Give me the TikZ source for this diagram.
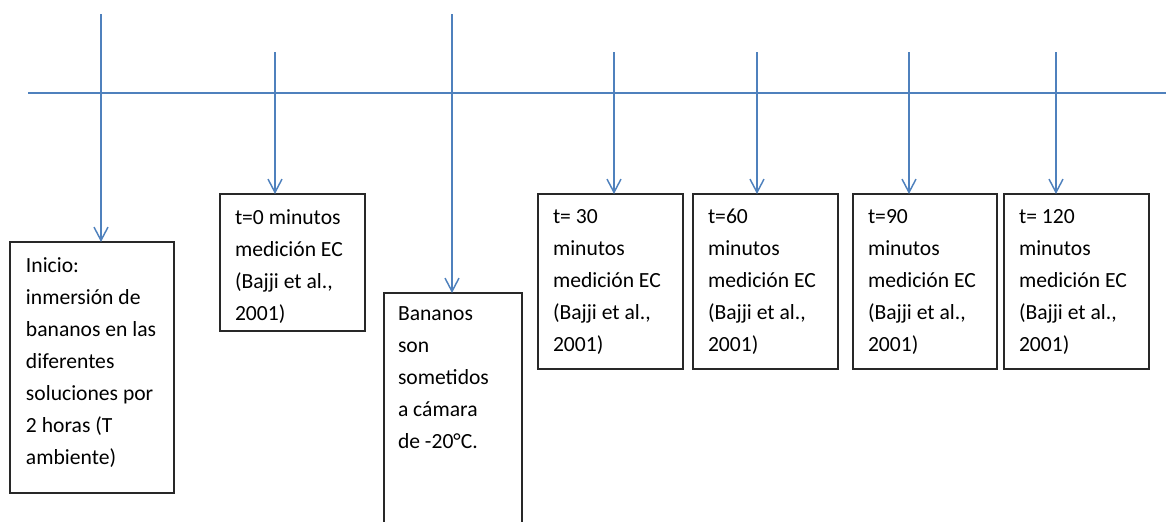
\documentclass[tikz,border=0pt]{standalone}
\usepackage{fontspec}
\setmainfont{Carlito}
\usetikzlibrary{arrows.meta}
\definecolor{lineblue}{RGB}{79,129,189}
\definecolor{boxline}{RGB}{40,40,40}
\tikzset{
  conn/.style={draw=lineblue, line width=1.2pt},
  arr/.style={conn, -{Straight Barb[length=10pt,width=10.5pt,line width=1.1pt]}},
  box/.style={draw=boxline, line width=1.2pt, rectangle, inner sep=0pt, outer sep=0pt},
  txt/.style={anchor=north west, inner sep=0pt, outer sep=0pt, align=left,
    font=\fontsize{16.2}{24}\selectfont, text=black}
}
\begin{document}
\begin{tikzpicture}[x=0.75pt,y=-0.75pt]
\useasboundingbox (0,0) rectangle (1166,521);
\clip (0,0) rectangle (1166,521);
% boxes
\node[box, minimum width=123pt, minimum height=188.25pt] (b1) at (92,367.5) {};
\node[box, minimum width=108.75pt, minimum height=102.75pt] (b2) at (292.5,262.5) {};
\node[box, minimum width=103.5pt, minimum height=181.5pt] (b3) at (453,414) {};
\node[box, minimum width=108.75pt, minimum height=131.25pt] (b4) at (610.5,281.5) {};
\node[box, minimum width=108.75pt, minimum height=131.25pt] (b5) at (765.5,281.5) {};
\node[box, minimum width=108pt, minimum height=131.25pt] (b6) at (925,281.5) {};
\node[box, minimum width=108.75pt, minimum height=131.25pt] (b7) at (1076.5,281.5) {};
% texts
\node[txt] (t1) at (26,249.6) {\strut Inicio:\\inmersión de\\bananos en las\\diferentes\\soluciones por\\2 horas (T\\ambiente)};
\node[txt] (t2) at (235,201.6) {\strut t=0 minutos\\medición EC\\(Bajji et al.,\\2001)};
\node[txt] (t3) at (398,297.6) {\strut Bananos\\son\\sometidos\\a cámara\\de -20°C.};
\node[txt] (t4) at (553,200.6) {\strut t= 30\\minutos\\medición EC\\(Bajji et al.,\\2001)};
\node[txt] (t5) at (708,200.6) {\strut t=60\\minutos\\medición EC\\(Bajji et al.,\\2001)};
\node[txt] (t6) at (868,200.6) {\strut t=90\\minutos\\medición EC\\(Bajji et al.,\\2001)};
\node[txt] (t7) at (1019,200.6) {\strut t= 120\\minutos\\medición EC\\(Bajji et al.,\\2001)};
% timeline
\coordinate (hl) at (28,93);
\coordinate (hr) at (1166,93);
\draw[conn] (hl) -- (hr);
% arrow tops
\coordinate (a1) at (101,14);
\coordinate (a2) at (275,52);
\coordinate (a3) at (452,14);
\coordinate (a4) at (614,52);
\coordinate (a5) at (757,52);
\coordinate (a6) at (909,52);
\coordinate (a7) at (1056,52);
\draw[arr] (a1) -- (a1 |- b1.north);
\draw[arr] (a2) -- (a2 |- b2.north);
\draw[arr] (a3) -- (a3 |- b3.north);
\draw[arr] (a4) -- (a4 |- b4.north);
\draw[arr] (a5) -- (a5 |- b5.north);
\draw[arr] (a6) -- (a6 |- b6.north);
\draw[arr] (a7) -- (a7 |- b7.north);
\end{tikzpicture}
\end{document}
